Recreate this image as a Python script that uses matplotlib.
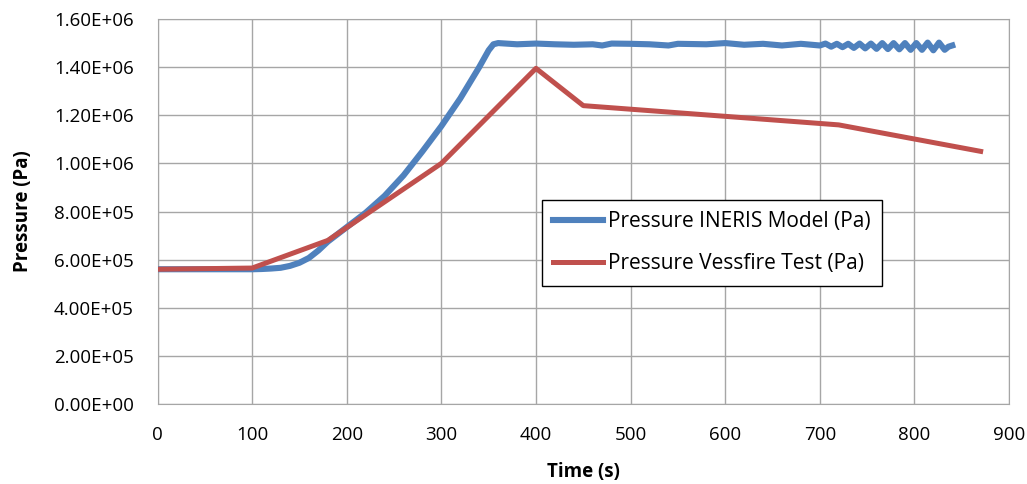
import matplotlib
matplotlib.use('Agg')
import matplotlib.pyplot as plt
from matplotlib.ticker import FuncFormatter

plt.rcParams['font.family'] = ['Open Sans', 'DejaVu Sans']

# INERIS model (blue)
model_time = [0, 50, 100, 110, 120, 130, 140, 150, 160, 170, 180, 190, 200, 220, 240,
              260, 280, 300, 320, 340, 350, 355,
              360, 380, 400, 420, 440, 460, 470, 480, 500, 520, 540, 550, 580, 600,
              620, 640, 660, 680, 700, 706, 712, 718, 724, 730, 736, 742, 748,
              754, 760, 766, 772, 778, 784, 790, 796, 802, 808, 814, 820, 826,
              832, 836, 840]
model_pressure = [5.6e5, 5.6e5, 5.6e5, 5.61e5, 5.63e5, 5.66e5, 5.74e5, 5.87e5, 6.07e5, 6.38e5,
                  6.75e5, 7.05e5, 7.35e5, 7.95e5, 8.65e5, 9.5e5, 1.05e6, 1.155e6, 1.27e6,
                  1.40e6, 1.47e6, 1.495e6,
                  1.50e6, 1.495e6, 1.498e6, 1.495e6, 1.493e6, 1.495e6, 1.49e6, 1.498e6,
                  1.497e6, 1.495e6, 1.49e6, 1.497e6, 1.495e6, 1.50e6, 1.493e6, 1.497e6,
                  1.49e6, 1.497e6, 1.49e6, 1.498e6, 1.485e6, 1.497e6, 1.483e6, 1.497e6,
                  1.48e6, 1.498e6, 1.478e6, 1.498e6, 1.476e6, 1.50e6, 1.475e6, 1.50e6,
                  1.474e6, 1.50e6, 1.472e6, 1.50e6, 1.472e6, 1.502e6, 1.47e6, 1.502e6,
                  1.472e6, 1.485e6, 1.49e6]

# Vessfire test (red)
test_time = [0, 100, 180, 300, 400, 450, 720, 870]
test_pressure = [5.6e5, 5.65e5, 6.8e5, 1.0e6, 1.395e6, 1.24e6, 1.16e6, 1.05e6]

x_ticks = list(range(0, 901, 100))
y_ticks = [i * 2e5 for i in range(9)]

fig = plt.figure(figsize=(10.27, 4.84), dpi=100)
ax = fig.add_axes([0.1534, 0.1653, 0.8291, 0.7954])

ax.plot(model_time, model_pressure, color='#4F81BD', lw=4.4,
        label='Pressure INERIS Model (Pa)', solid_joinstyle='round', zorder=3)
ax.plot(test_time, test_pressure, color='#C0504D', lw=3.6,
        label='Pressure Vessfire Test (Pa)', zorder=4)

ax.set_xlim(0, 900)
ax.set_ylim(0, 1.6e6)
ax.set_xticks(x_ticks)
ax.set_yticks(y_ticks)
ax.yaxis.set_major_formatter(FuncFormatter(lambda v, p: f'{v:.2E}'))
ax.grid(True, color='#A6A6A6', lw=1.0)
ax.set_axisbelow(True)
for s in ax.spines.values():
    s.set_color('#A6A6A6')
ax.tick_params(axis='x', length=0, labelsize=13.5, pad=16, colors='black')
ax.tick_params(axis='y', length=0, labelsize=13.5, pad=17, colors='black')

ax.set_xlabel('Time (s)', fontsize=13.5, fontweight='bold', va='center')
ax.set_ylabel('Pressure (Pa)', fontsize=13.5, fontweight='bold', va='center')
ax.xaxis.set_label_coords(0.5, -0.177)
ax.yaxis.set_label_coords(-0.158, 0.5)

leg = ax.legend(loc='upper left', bbox_to_anchor=(0.451, 0.53), fontsize=15,
                frameon=True, fancybox=False, edgecolor='black', framealpha=1,
                handlelength=2.4, borderpad=0.55, labelspacing=1.0, handletextpad=0.25,
                borderaxespad=0)
leg.get_frame().set_linewidth(1.0)

fig.savefig('out.png', dpi=100)
